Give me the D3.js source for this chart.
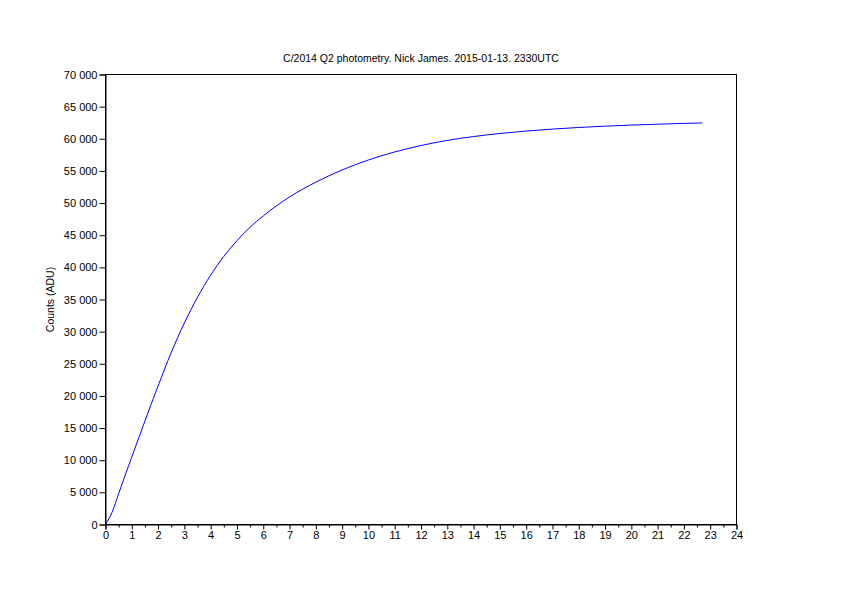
<!DOCTYPE html>
<html>
<head>
<meta charset="utf-8">
<script src="https://cdn.jsdelivr.net/npm/d3@7"></script>
<style>
  html, body { margin: 0; padding: 0; background: #fff; }
  svg { display: block; }
  text { font-family: "Liberation Sans", Arial, sans-serif; fill: #000; }
</style>
</head>
<body>
<svg id="chart" width="842" height="599"></svg>
<script>
const title = "C/2014 Q2 photometry. Nick James. 2015-01-13. 2330UTC";
const yLabel = "Counts (ADU)";
const xTicks = d3.range(0, 25, 1);
const xMinorTicks = d3.range(0.5, 24, 1);
const yTicks = d3.range(0, 70001, 5000);
const xValues = [0, 0.25, 0.5, 0.75, 1, 1.5, 2, 2.5, 3, 3.5, 4, 4.5, 5, 5.5, 6, 7, 8, 9, 10, 11, 12, 13, 14, 15, 16, 17, 18, 19, 20, 21, 22, 22.7];
const counts = [0, 1900, 4800, 7700, 10500, 16100, 21550, 26750, 31350, 35350, 38800, 41700, 44150, 46250, 48000, 50950, 53250, 55150, 56700, 57950, 58950, 59750, 60350, 60820, 61200, 61510, 61760, 61960, 62130, 62270, 62390, 62470];

const svg = d3.select("#chart");
const L = 105.5, R = 736.5, T = 74.5, B = 524.5;
const x = d3.scaleLinear().domain([0, 24]).range([L, R]);
const y = d3.scaleLinear().domain([0, 70000]).range([B, T]);

const fmt = v => v === 0 ? "0" : d3.format(",")(v).replace(/,/g, " ");

// frame
svg.append("rect").attr("x", L).attr("y", T).attr("width", R - L).attr("height", B - T)
  .attr("fill", "none").attr("stroke", "#000").attr("stroke-width", 1);

// x axis
svg.append("g").attr("transform", `translate(0,${B})`)
  .call(d3.axisBottom(x).tickValues(xTicks).tickSize(5).tickPadding(2).tickFormat(d3.format("d")));
svg.append("g").attr("transform", `translate(0,${B})`)
  .call(d3.axisBottom(x).tickValues(xMinorTicks).tickSize(3).tickFormat(""))
  .select(".domain").remove();

// y axis
svg.append("g").attr("transform", `translate(${L},0)`)
  .call(d3.axisLeft(y).tickValues(yTicks).tickSize(6).tickPadding(2).tickFormat(fmt));

svg.selectAll(".tick text").attr("font-family", "Liberation Sans, Arial, sans-serif").attr("font-size", 11);
svg.selectAll(".domain").attr("stroke", "#000");

// title
svg.append("text").attr("x", (L + R) / 2).attr("y", 62).attr("text-anchor", "middle")
  .attr("font-size", 10.5).text(title);

// y label
svg.append("text").attr("transform", `translate(54,${(T + B) / 2}) rotate(-90)`)
  .attr("text-anchor", "middle").attr("font-size", 10.5).text(yLabel);

// curve
const line = d3.line().x((d, i) => x(xValues[i])).y(d => y(d)).curve(d3.curveMonotoneX);
svg.append("path").datum(counts).attr("d", line)
  .attr("fill", "none").attr("stroke", "#0000ff").attr("stroke-width", 1);
</script>
</body>
</html>
